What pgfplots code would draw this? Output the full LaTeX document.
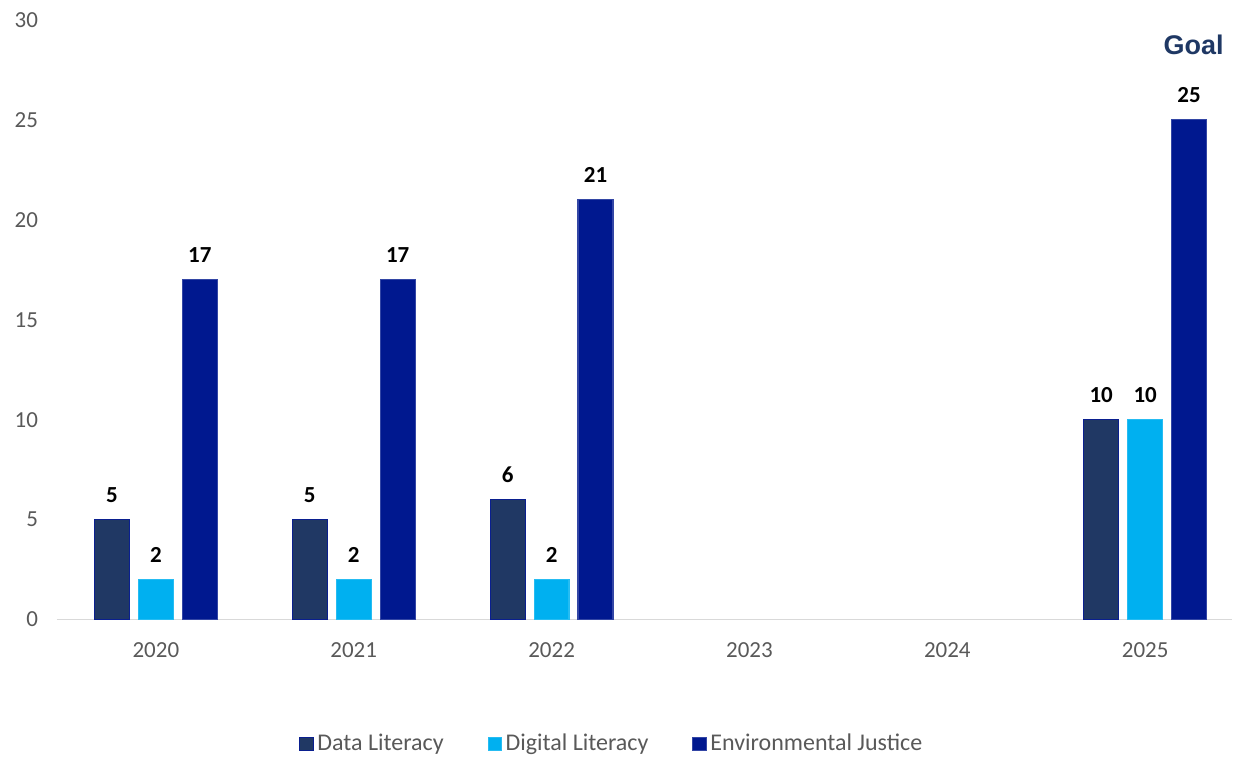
\documentclass[border=0pt]{standalone}
\usepackage{pgfplots}
\pgfplotsset{compat=1.18}
\usepackage{fontspec}
\setmainfont{Carlito}
\newfontfamily\arialfont{Liberation Sans}

\definecolor{datalit}{HTML}{203864}
\definecolor{digilit}{HTML}{00B0F0}
\definecolor{envjust}{HTML}{00188F}
\definecolor{edgeblue}{HTML}{0A1F8F}
\definecolor{ticktext}{HTML}{595959}
\definecolor{axisgray}{HTML}{D9D9D9}
\definecolor{goalblue}{HTML}{1F3864}

\begin{document}
\begin{tikzpicture}
\begin{axis}[
    x=99pt, y=10pt,
    xmin=-0.5, xmax=5.44,
    ymin=0, ymax=30,
    ybar,
    bar width=17.5pt,
    clip=false,
    axis x line*=bottom,
    axis y line*=left,
    x axis line style={draw=axisgray, line width=0.8pt, -},
    y axis line style={draw=none},
    major tick length=0pt,
    xtick={0,1,2,3,4,5},
    xticklabels={2020,2021,2022,2023,2024,2025},
    ytick={0,5,...,30},
    /pgf/number format/assume math mode=true,
    tick label style={font=\fontsize{11.5}{13}\selectfont, text=ticktext},
    yticklabel style={xshift=-6pt},
    xticklabel style={yshift=-8pt},
    nodes near coords,
    every node near coord/.append style={font=\bfseries\fontsize{11.5}{13}\selectfont, text=black, yshift=5pt},
    legend columns=3,
    legend style={draw=none, at={(rel axis cs:0.473,-0.207)}, anchor=center,
        font=\fontsize{12}{14}\selectfont, text=ticktext,
        /tikz/every even column/.append style={column sep=20pt}},
    legend image code/.code={\draw[#1, line width=0.4pt] (0pt,-3.3pt) rectangle (6.6pt,3.3pt);},
]
\addplot[fill=datalit, draw=edgeblue, line width=0.6pt, bar shift=-22pt]
    coordinates {(0,5)(1,5)(2,6)(5,10)};
\addplot[fill=digilit, draw=digilit!85!white, line width=0.6pt, bar shift=0pt]
    coordinates {(0,2)(1,2)(2,2)(5,10)};
\addplot[fill=envjust, draw=envjust!80!white, line width=0.6pt, bar shift=22pt]
    coordinates {(0,17)(1,17)(2,21)(5,25)};
\legend{Data Literacy, Digital Literacy, Environmental Justice}
\node[font=\arialfont\bfseries\fontsize{13.5}{15}\selectfont, text=goalblue] at (axis cs:5.245,28.75) {Goal};
\path (rel axis cs:0,0) ++(-28.5pt,-70.5pt) coordinate (bbA);
\path (rel axis cs:1,1) ++(0pt,10pt) coordinate (bbB);
\end{axis}
\end{tikzpicture}
\end{document}
